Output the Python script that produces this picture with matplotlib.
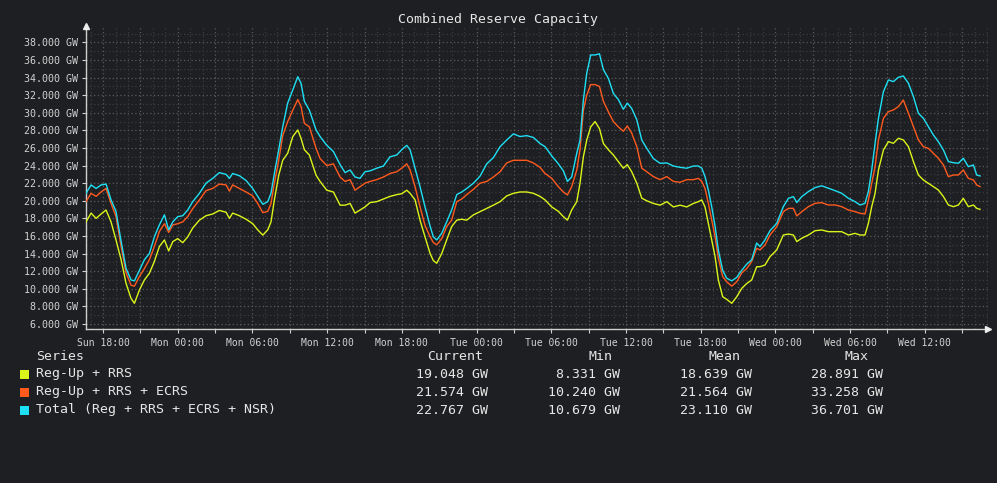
import matplotlib
matplotlib.use("Agg")
import matplotlib.pyplot as plt
from matplotlib.ticker import MultipleLocator, FuncFormatter
from matplotlib.patches import Rectangle
import numpy as np

# ---------------- data (hours since Sun 18:00, values in GW) ----------------
hours = [
    -1.37, -0.96, -0.56, -0.16, 0.24, 0.64, 1.04, 1.45, 1.85, 2.25, 2.52, 2.92, 3.32, 3.72,
    4.12, 4.52, 4.93, 5.27, 5.6, 6.0, 6.4, 6.8, 7.2, 7.74, 8.27, 8.81, 9.34, 9.88, 10.15,
    10.41, 10.95, 11.49, 12.02, 12.42, 12.83, 13.23, 13.49, 13.76, 14.11, 14.43, 14.83,
    15.24, 15.64, 15.9, 16.17, 16.57, 17.11,
    17.43, 17.97, 18.5, 19.04, 19.44, 19.84, 20.24, 20.64, 21.04, 21.45, 21.98, 22.52,
    23.05, 23.59, 23.99, 24.39, 24.66, 25.06, 25.46, 25.86, 26.27, 26.53, 26.8, 27.2,
    27.6, 28.0, 28.41, 28.81, 29.21, 29.75, 30.28, 30.82, 31.35, 31.89, 32.42, 32.96,
    33.49, 34.03, 34.56, 35.1,
    35.5, 36.04, 36.57, 36.97, 37.3, 37.64, 38.05, 38.31, 38.58, 38.85, 39.17, 39.52,
    39.87, 40.19, 40.59, 40.99, 41.39, 41.79, 42.11, 42.46, 42.87, 43.27, 43.67, 44.2,
    44.74, 45.28, 45.81, 46.35, 46.88, 47.42, 47.82, 48.09, 48.35, 48.62, 48.89, 49.16,
    49.42, 49.77, 50.09, 50.5, 50.9, 51.3, 51.7, 52.1, 52.5,
    52.77, 53.17, 53.57, 54.11, 54.64, 55.05, 55.45, 55.72, 56.12, 56.65, 57.19, 57.72,
    58.26, 58.8, 59.33, 59.87, 60.4, 60.8, 61.2, 61.47, 61.74, 62.01, 62.28, 62.68,
    63.08, 63.48, 63.88, 64.28, 64.69, 65.09, 65.49, 65.89, 66.29, 66.69, 67.09, 67.5,
    67.9, 68.3, 68.7, 69.1, 69.5, 69.91, 70.17, 70.44,
]

total = [
    20.85, 21.8, 21.4, 21.8, 21.9, 20.1, 18.8, 15.4, 12.3, 11.0, 10.9, 12.1, 13.3, 14.0,
    15.9, 17.25, 18.4, 16.7, 17.6, 18.2, 18.3, 18.95, 19.9, 20.85, 22.0, 22.55, 23.2, 23.0,
    22.55, 23.1, 22.85, 22.3, 21.4, 20.5, 19.6, 19.9, 20.85, 23.1, 25.8, 28.4, 31.1, 32.6,
    34.1, 33.35, 31.3, 30.3, 28.05,
    27.3, 26.3, 25.6, 24.1, 23.2, 23.5, 22.7, 22.55, 23.3, 23.4, 23.7, 23.95, 25.0, 25.2,
    25.8, 26.3, 25.8, 23.7, 21.6, 19.3, 17.1, 15.9, 15.55, 16.3, 17.6, 18.95, 20.7, 21.0,
    21.4, 22.0, 22.8, 24.2, 24.9, 26.15, 26.9, 27.6, 27.3, 27.4, 27.2, 26.5,
    26.15, 25.1, 24.2, 23.4, 22.2, 22.7, 25.4, 26.9, 31.45, 34.5, 36.57, 36.57, 36.7, 34.9,
    33.9, 32.2, 31.5, 30.4, 31.1, 30.5, 29.2, 26.9, 25.96, 24.8, 24.26, 24.3, 23.95, 23.8,
    23.7, 23.95, 23.95, 23.7, 22.75, 21.2, 19.3, 17.1, 14.4, 12.1, 11.2, 10.9, 11.3, 12.1,
    12.8, 13.3, 15.2,
    14.79, 15.55, 16.6, 17.44, 19.33, 20.28, 20.47, 19.8, 20.47, 21.04, 21.5, 21.7, 21.42,
    21.15, 20.85, 20.28, 19.9, 19.52, 19.71, 21.04, 23.5, 26.53, 29.37, 32.4, 33.73, 33.54,
    34.03, 34.18, 33.35, 31.83, 29.94, 29.37, 28.42, 27.48, 26.72, 25.77, 24.45, 24.33,
    24.26, 24.83, 23.88, 24.07, 22.93, 22.82,
]

reg_rrs_ecrs = [
    19.9, 20.85, 20.5, 21.0, 21.4, 19.7, 18.2, 14.8, 11.8, 10.4, 10.3, 11.4, 12.3, 13.3,
    14.8, 16.5, 17.4, 16.4, 17.25, 17.4, 17.6, 18.2, 19.1, 20.1, 21.15, 21.4, 21.9, 21.8,
    21.1, 21.8, 21.4, 21.0, 20.55, 19.7, 18.65, 18.8, 19.7, 22.0, 24.6, 27.4, 29.0, 30.3,
    31.5, 30.7, 28.8, 28.4, 25.96,
    24.8, 24.0, 24.2, 22.7, 22.2, 22.4, 21.2, 21.6, 22.0, 22.2, 22.4, 22.7, 23.1, 23.3,
    23.7, 24.2, 23.5, 21.6, 19.3, 17.2, 15.9, 15.25, 15.0, 15.7, 17.06, 17.8, 19.9, 20.2,
    20.7, 21.3, 22.0, 22.2, 22.7, 23.3, 24.3, 24.6, 24.6, 24.6, 24.3, 23.8,
    23.1, 22.55, 21.6, 21.0, 20.66, 21.6, 23.5, 25.8, 30.3, 32.0, 33.2, 33.2, 33.0, 31.3,
    30.1, 29.0, 28.4, 27.9, 28.5, 27.7, 26.15, 23.7, 23.3, 22.75, 22.4, 22.75, 22.2, 22.1,
    22.4, 22.4, 22.55, 22.2, 21.4, 19.7, 17.8, 15.9, 13.5, 11.4, 10.8, 10.3, 10.8, 11.8,
    12.3, 13.1, 14.6,
    14.41, 14.98, 16.11, 17.06, 18.76, 19.14, 19.14, 18.27, 18.76, 19.33, 19.71, 19.79,
    19.52, 19.52, 19.33, 18.95, 18.76, 18.58, 18.5, 20.09, 21.99, 23.88, 26.91, 29.37,
    30.13, 30.32, 30.7, 31.45, 29.94, 28.42, 26.91, 26.15, 25.96, 25.39, 24.83, 24.07,
    22.74, 22.93, 22.93, 23.5, 22.55, 22.36, 21.8, 21.61,
]

reg_rrs = [
    17.6, 18.6, 18.0, 18.5, 18.95, 17.6, 15.55, 13.3, 10.6, 8.9, 8.35, 9.86, 11.0, 11.76,
    13.1, 14.8, 15.55, 14.3, 15.36, 15.7, 15.24, 15.9, 16.9, 17.8, 18.3, 18.5, 18.9, 18.7,
    18.0, 18.6, 18.3, 17.9, 17.4, 16.7, 16.1, 16.7, 17.6, 20.1, 22.9, 24.6, 25.4, 27.3,
    28.05, 27.1, 25.8, 25.2, 22.9,
    22.2, 21.2, 21.0, 19.5, 19.5, 19.7, 18.6, 18.95, 19.3, 19.8, 19.9, 20.2, 20.5, 20.7,
    20.8, 21.2, 20.85, 20.1, 17.8, 15.9, 14.0, 13.2, 12.9, 14.0, 15.55, 17.06, 17.8, 17.9,
    17.8, 18.4, 18.76, 19.14, 19.5, 19.9, 20.55, 20.85, 21.0, 21.0, 20.85, 20.5,
    20.1, 19.3, 18.8, 18.2, 17.8, 18.95, 19.9, 22.0, 25.0, 26.9, 28.4, 29.0, 28.2, 26.5,
    25.8, 25.2, 24.45, 23.7, 24.1, 23.3, 22.0, 20.3, 20.0, 19.7, 19.5, 19.9, 19.3, 19.5,
    19.3, 19.7, 19.9, 20.1, 19.3, 17.4, 15.55, 13.65, 11.0, 9.1, 8.8, 8.35, 9.1, 10.05,
    10.6, 11.0, 12.5,
    12.51, 12.7, 13.65, 14.41, 16.11, 16.22, 16.11, 15.36, 15.74, 16.11, 16.6, 16.68,
    16.49, 16.49, 16.49, 16.11, 16.3, 16.11, 16.11, 17.44, 19.33, 20.85, 23.5, 25.77,
    26.72, 26.53, 27.1, 26.91, 26.15, 24.45, 22.93, 22.36, 21.99, 21.61, 21.23, 20.47,
    19.52, 19.33, 19.52, 20.28, 19.33, 19.52, 19.14, 19.03,
]

series_names = ["Reg-Up + RRS", "Reg-Up + RRS + ECRS", "Total (Reg + RRS + ECRS + NSR)"]
stat_current = [19.048, 21.574, 22.767]
stat_min = [8.331, 10.240, 10.679]
stat_mean = [18.639, 21.564, 23.110]
stat_max = [28.891, 33.258, 36.701]
y_ticks = list(range(6, 40, 2))
day_names = ["Sun", "Mon", "Tue", "Wed", "Thu"]

# ---------------- style ----------------
BG = "#1e1f22"
C_YEL = "#dcf51a"
C_ORG = "#ff5a1e"
C_CYA = "#1ee0f5"
AXC = "#cfcfcf"
TXT = "#e6e6e6"
MONO = ["DejaVu Sans Mono"]

W, H = 997, 483
fig = plt.figure(figsize=(W / 100, H / 100), dpi=100, facecolor=BG)

def px(x, y):
    return x / W, 1 - y / H

left, right, top, bottom = 86, 988, 26, 329
ax = fig.add_axes([left / W, 1 - bottom / H, (right - left) / W, (bottom - top) / H])
ax.set_facecolor(BG)

ax.plot(hours, reg_rrs, color=C_YEL, lw=1.0, zorder=3)
ax.plot(hours, reg_rrs_ecrs, color=C_ORG, lw=1.0, zorder=4)
ax.plot(hours, total, color=C_CYA, lw=1.0, zorder=5)

ax.set_xlim(-1.37, 71.08)
ax.set_ylim(5.43, 39.86)

# x ticks
def xfmt(v, pos):
    h = int(round(v)) + 18
    if h % 6 != 0:
        return ""
    return f"{day_names[h // 24]} {h % 24:02d}:00"

ax.xaxis.set_major_locator(MultipleLocator(3))
ax.xaxis.set_minor_locator(MultipleLocator(1))
ax.xaxis.set_major_formatter(FuncFormatter(xfmt))
ax.set_yticks(y_ticks)
ax.yaxis.set_minor_locator(MultipleLocator(1))
ax.yaxis.set_major_formatter(FuncFormatter(lambda v, p: f"{v:.3f} GW"))

ax.tick_params(axis="both", which="major", colors=AXC, length=3, width=0.8,
               labelcolor="#d2d2d2", labelsize=7.2, pad=2.5)
ax.tick_params(axis="x", which="major", labelsize=7.0, pad=3.5)
ax.tick_params(axis="both", which="minor", length=0)
for lab in ax.get_xticklabels() + ax.get_yticklabels():
    lab.set_family(MONO)

ax.grid(True, which="major", color="#5a5a5a", lw=0.9, ls=(0, (1, 2)))
ax.grid(True, which="minor", color="#3a3b3e", lw=0.9, ls=(0, (1, 2)))
ax.set_axisbelow(True)

for s in ("top", "right"):
    ax.spines[s].set_visible(False)
for s in ("left", "bottom"):
    ax.spines[s].set_color(AXC)
    ax.spines[s].set_linewidth(1.0)

# axis arrows
ax.plot([0], [1], marker="^", ms=5, color="#eeeeee", transform=ax.transAxes, clip_on=False, zorder=6)
ax.plot([1], [0], marker=">", ms=5, color="#eeeeee", transform=ax.transAxes, clip_on=False, zorder=6)

# title
fig.text(*px(498, 19), "Combined Reserve Capacity", ha="center", va="center",
         color=TXT, fontsize=9.5, family=MONO)

# legend table
fs = 9.5
fig.text(*px(36, 356), "Series", ha="left", va="center", color=TXT, fontsize=fs, family=MONO)
for hx, name in zip([455.5, 600, 724, 856.5], ["Current", "Min", "Mean", "Max"]):
    fig.text(*px(hx, 356), name, ha="center", va="center", color=TXT, fontsize=fs, family=MONO)

row_y = [374, 392, 410]
colors = [C_YEL, C_ORG, C_CYA]
for i in range(3):
    yy = row_y[i]
    fig.patches.append(Rectangle(px(20, yy + 4.5), 9 / W, 9 / H, transform=fig.transFigure,
                                 facecolor=colors[i], edgecolor="none"))
    fig.text(*px(36, yy), series_names[i], ha="left", va="center", color=TXT, fontsize=fs, family=MONO)
    for cx, val in zip([488, 620, 752, 883],
                       [stat_current[i], stat_min[i], stat_mean[i], stat_max[i]]):
        fig.text(*px(cx, yy), f"{val:.3f} GW", ha="right", va="center", color=TXT,
                 fontsize=fs, family=MONO)

fig.savefig("out.png", dpi=100, facecolor=BG)
